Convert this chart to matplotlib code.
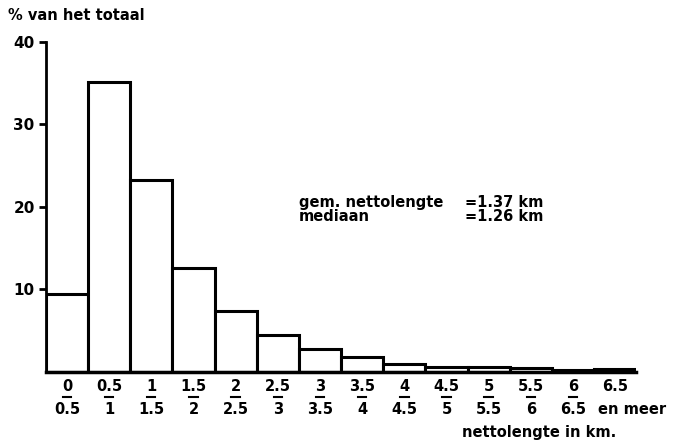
import numpy as np
import matplotlib.pyplot as plt
from matplotlib.transforms import blended_transform_factory

plt.rcParams['font.family'] = ['DejaVu Sans']
plt.rcParams['font.weight'] = 'bold'

lower = ['0', '0.5', '1', '1.5', '2', '2.5', '3', '3.5', '4', '4.5', '5', '5.5', '6', '6.5']
upper = ['0.5', '1', '1.5', '2', '2.5', '3', '3.5', '4', '4.5', '5', '5.5', '6', '6.5', 'en meer']
pct = [9.5, 35.1, 23.3, 12.6, 7.4, 4.5, 2.8, 1.8, 1.0, 0.6, 0.6, 0.5, 0.3, 0.4]

fig = plt.figure(figsize=(6.74, 4.45), dpi=100)
ax = fig.add_axes([0.068, 0.164, 0.876, 0.742])

x = np.arange(len(pct))
ax.bar(x, pct, width=1.0, align='edge', color='white', edgecolor='black', linewidth=2.2)

ax.set_xlim(0, 14)
ax.set_ylim(0, 40)
ax.set_yticks([10, 20, 30, 40])
ax.set_yticklabels(['10', '20', '30', '40'], fontsize=11)
ax.tick_params(axis='y', direction='out', length=5, width=2, pad=3)
ax.set_xticks([])
for s in ['top', 'right']:
    ax.spines[s].set_visible(False)
ax.spines['left'].set_linewidth(2)
ax.spines['bottom'].set_linewidth(2.5)

# two-row class labels: lower bound (underlined) over upper bound
tr = blended_transform_factory(ax.transData, ax.transAxes)
for i in range(len(pct)):
    ax.text(i + 0.5, -0.045, lower[i], transform=tr, ha='center', va='center', fontsize=10.5)
    if i < len(pct) - 1:
        ax.plot([i + 0.4, i + 0.6], [-0.075, -0.075], transform=tr, color='black', lw=1.5,
                clip_on=False)
        ax.text(i + 0.5, -0.115, upper[i], transform=tr, ha='center', va='center', fontsize=10.5)
    else:
        ax.text(i + 0.1, -0.115, upper[i], transform=tr, ha='left', va='center', fontsize=10.5)

ax.text(11.7, -0.183, 'nettolengte in km.', transform=tr, ha='center', va='center', fontsize=10.5)
fig.text(0.012, 0.966, '% van het totaal', ha='left', va='center', fontsize=10.5)

ax.text(6.0, 20.5, 'gem. nettolengte', ha='left', va='center', fontsize=10.5)
ax.text(6.0, 18.8, 'mediaan', ha='left', va='center', fontsize=10.5)
ax.text(9.95, 20.5, '=1.37 km', ha='left', va='center', fontsize=10.5)
ax.text(9.95, 18.8, '=1.26 km', ha='left', va='center', fontsize=10.5)

fig.savefig('out.png', dpi=100)
